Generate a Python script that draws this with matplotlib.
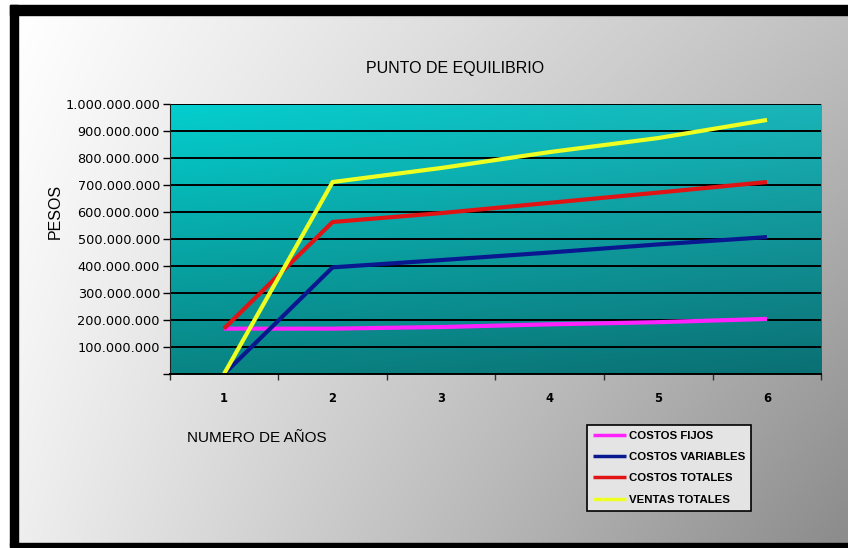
import numpy as np
import matplotlib.pyplot as plt
from matplotlib.patches import Rectangle
from matplotlib.ticker import FuncFormatter

anios = [1, 2, 3, 4, 5, 6]
costos_fijos = [168e6, 168e6, 174e6, 184e6, 192e6, 204e6]
costos_variables = [0, 395e6, 422e6, 450e6, 480e6, 507e6]
costos_totales = [168e6, 563e6, 596e6, 634e6, 672e6, 711e6]
ventas_totales = [0, 711e6, 763e6, 822e6, 874e6, 941e6]

series = [
    ("COSTOS FIJOS", costos_fijos, "#ff22ff"),
    ("COSTOS VARIABLES", costos_variables, "#0a1890"),
    ("COSTOS TOTALES", costos_totales, "#e01414"),
    ("VENTAS TOTALES", ventas_totales, "#eeff22"),
]


def bilinear(tl, tr, bl, br, h, w):
    """ RGB image blending four corner colours """
    tl, tr, bl, br = [np.array(c, dtype=float) / 255 for c in (tl, tr, bl, br)]
    u = np.linspace(0, 1, w)[None, :, None]
    v = np.linspace(0, 1, h)[:, None, None]
    top = tl * (1 - u) + tr * u
    bot = bl * (1 - u) + br * u
    return top * (1 - v) + bot * v


W, H = 848, 548
fig = plt.figure(figsize=(W / 100, H / 100), dpi=100)

# frame and grey background
bg = fig.add_axes([0, 0, 1, 1])
bg.set_xlim(0, W)
bg.set_ylim(H, 0)
bg.axis("off")
bg.imshow(bilinear((255, 255, 255), (192, 192, 192), (238, 238, 238), (140, 140, 140), 60, 80),
          extent=(18, W, 543, 15), aspect="auto", interpolation="bilinear")
bg.add_patch(Rectangle((10, 5), W - 10, 10, color="black"))
bg.add_patch(Rectangle((10, 5), 8, 540, color="black"))
bg.add_patch(Rectangle((10, 543), W - 10, 5, color="black"))

bg.text(455, 68, "PUNTO DE EQUILIBRIO", ha="center", va="center",
        fontsize=11.5, family="Liberation Sans")
bg.text(257, 438, "NUMERO DE AÑOS", ha="center", va="center",
        fontsize=11, family="Liberation Sans")
bg.text(55, 211, "PESOS", ha="center", va="center", rotation=90,
        fontsize=11.5, family="Liberation Sans")

# plot area
x0, x1, y0, y1 = 169.7, 821.3, 104, 374
ax = fig.add_axes([x0 / W, 1 - y1 / H, (x1 - x0) / W, (y1 - y0) / H])
ax.set_xlim(0.5, 6.5)
ax.set_ylim(0, 1e9)
ax.imshow(bilinear((4, 206, 206), (26, 180, 184), (10, 132, 132), (10, 112, 116), 60, 80),
          extent=(0.5, 6.5, 0, 1e9), aspect="auto", interpolation="bilinear", zorder=0)

ax.set_yticks(np.arange(0, 1.0e9 + 1, 1e8))
ax.yaxis.set_major_formatter(FuncFormatter(lambda v, p: "" if v == 0 else f"{int(v):,}".replace(",", ".")))
ax.grid(axis="y", color="black", linewidth=1.4)
ax.set_axisbelow(True)

ax.set_xticks(anios)
ax.set_xticks(np.arange(0.5, 7, 1), minor=True)
ax.tick_params(axis="x", which="major", length=0, pad=13, labelsize=8.3)
ax.tick_params(axis="x", which="minor", length=4, width=1, color="#303030")
ax.tick_params(axis="y", length=5, width=1, pad=2, labelsize=9.3)
for lbl in ax.get_xticklabels():
    lbl.set_fontweight("bold")

for side in ("top", "right"):
    ax.spines[side].set_visible(False)
ax.spines["left"].set_color("#202020")
ax.spines["bottom"].set_linewidth(1.4)

for name, vals, color in series:
    ax.plot(anios, vals, color=color, linewidth=3, label=name, solid_capstyle="butt")

leg = ax.legend(loc="upper left", bbox_to_anchor=(587 / W, 1 - 425 / H),
                bbox_transform=fig.transFigure, frameon=True, fancybox=False,
                edgecolor="black", facecolor="#e4e4e4", framealpha=1,
                prop={"family": "Liberation Sans", "weight": "bold", "size": 8.2},
                handlelength=2.9, handletextpad=0.25, labelspacing=1.0,
                borderpad=0.5, borderaxespad=0)
leg.get_frame().set_linewidth(1.2)
for line in leg.get_lines():
    line.set_linewidth(2.5)

fig.savefig("out.png", dpi=100)
